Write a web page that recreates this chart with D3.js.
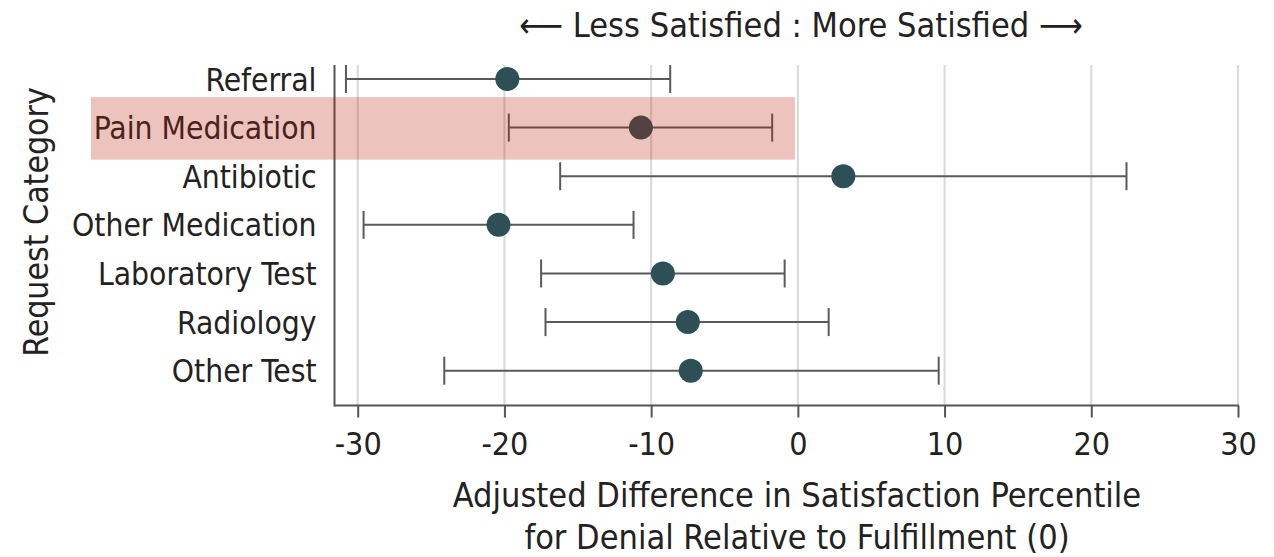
<!DOCTYPE html>
<html><head><meta charset="utf-8">
<script src="https://cdn.jsdelivr.net/npm/d3@7"></script>
<style>body{margin:0;background:#fff}svg{display:block}text{font-family:"DejaVu Sans Condensed","DejaVu Sans",sans-serif;font-stretch:condensed;fill:#222}</style>
</head><body><svg id="c" width="1274" height="557"></svg>
<script>
const categories = ["Referral","Pain Medication","Antibiotic","Other Medication","Laboratory Test","Radiology","Other Test"];
const estimates = [-19.8,-10.7,3.1,-20.4,-9.2,-7.5,-7.3];
const lower = [-30.8,-19.7,-16.2,-29.6,-17.5,-17.2,-24.1];
const upper = [-8.7,-1.75,22.4,-11.2,-0.9,2.1,9.6];
const xTicks = [-30,-20,-10,0,10,20,30];
const highlighted = ["Pain Medication"];

(function(){
const svg = d3.select("#c");
const x = d3.scaleLinear().domain([-30,30]).range([357.7,1238]);
const y = d3.scalePoint().domain(categories).range([79,370.7]);
const axisX = 334.5, axisY = 405.5, plotTop = 65;
const data = categories.map((c,i)=>({c,est:estimates[i],lo:lower[i],hi:upper[i]}));

// gridlines
svg.append("g").selectAll("line").data(xTicks).join("line")
  .attr("x1",d=>x(d)).attr("x2",d=>x(d)).attr("y1",plotTop).attr("y2",axisY)
  .attr("stroke","#d9d9d9").attr("stroke-width",2);

// x axis
const gx = svg.append("g").attr("transform",`translate(0,${axisY})`)
  .call(d3.axisBottom(x).tickValues(xTicks).tickSize(12).tickSizeOuter(0).tickFormat(d=>d<0?"-"+Math.abs(d):d));
gx.select(".domain").remove();
gx.selectAll(".tick line").attr("stroke","#555").attr("stroke-width",2);
gx.selectAll(".tick text").attr("y",0).attr("dy","49.5").style("font-size","32px").attr("fill","#222");
svg.append("line").attr("x1",axisX).attr("x2",x(30)+1).attr("y1",axisY).attr("y2",axisY).attr("stroke","#555").attr("stroke-width",2);
svg.append("line").attr("x1",axisX).attr("x2",axisX).attr("y1",plotTop).attr("y2",axisY+1).attr("stroke","#555").attr("stroke-width",2);

// y labels
const gy = svg.append("g").attr("transform",`translate(${axisX},0)`)
  .call(d3.axisLeft(y).tickSize(0).tickPadding(18));
gy.select(".domain").remove();
gy.selectAll(".tick text").style("font-size","31.5px").attr("fill","#222").attr("dy","0.35em");

// error bars
const eb = svg.append("g").selectAll("g").data(data).join("g").attr("transform",d=>`translate(0,${y(d.c)})`);
eb.append("line").attr("x1",d=>x(d.lo)).attr("x2",d=>x(d.hi)).attr("stroke","#5a5a5a").attr("stroke-width",2);
eb.append("line").attr("x1",d=>x(d.lo)).attr("x2",d=>x(d.lo)).attr("y1",-14).attr("y2",14).attr("stroke","#5a5a5a").attr("stroke-width",2);
eb.append("line").attr("x1",d=>x(d.hi)).attr("x2",d=>x(d.hi)).attr("y1",-14).attr("y2",14).attr("stroke","#5a5a5a").attr("stroke-width",2);
eb.append("circle").attr("cx",d=>x(d.est)).attr("r",12).attr("fill","#2e4f55");

// highlight overlay
svg.append("g").selectAll("rect").data(highlighted).join("rect")
  .attr("x",91).attr("width",x(0)-3-91)
  .attr("y",d=>y(d)-30.5).attr("height",62.5)
  .attr("fill","#b9210b").attr("fill-opacity",0.27);

// titles
svg.append("text").attr("x",801).attr("y",37).attr("text-anchor","middle").style("font-size","34px")
  .text("\u27F5 Less Satisfied  :  More Satisfied \u27F6");
svg.append("text").attr("transform","translate(48,222) rotate(-90)").attr("text-anchor","middle").style("font-size","33.5px")
  .text("Request Category");
svg.append("text").attr("x",797).attr("y",507).attr("text-anchor","middle").style("font-size","34px")
  .text("Adjusted Difference in Satisfaction Percentile");
svg.append("text").attr("x",797).attr("y",549).attr("text-anchor","middle").style("font-size","34px")
  .text("for Denial Relative to Fulfillment (0)");
})();
</script></body></html>
